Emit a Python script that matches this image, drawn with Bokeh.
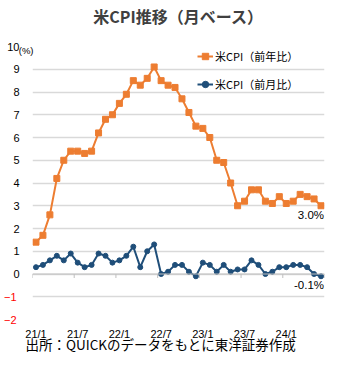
from bokeh.plotting import figure
from bokeh.models import (FixedTicker, LinearAxis, Label, Legend, LegendItem,
                          Range1d, Title, Span)
from bokeh.embed import file_html
from bokeh.resources import INLINE

# ---- data ----
months = [f"{y}/{m}" for y in (21, 22, 23, 24) for m in range(1, 13)][:42]
yoy = [1.4, 1.7, 2.6, 4.2, 5.0, 5.4, 5.4, 5.3, 5.4, 6.2, 6.8, 7.0,
       7.5, 7.9, 8.5, 8.3, 8.6, 9.1, 8.5, 8.3, 8.2, 7.7, 7.1, 6.5,
       6.4, 6.0, 5.0, 4.9, 4.0, 3.0, 3.2, 3.7, 3.7, 3.2, 3.1, 3.4,
       3.1, 3.2, 3.5, 3.4, 3.3, 3.0]
mom = [0.3, 0.4, 0.6, 0.8, 0.6, 0.9, 0.5, 0.3, 0.4, 0.9, 0.8, 0.5,
       0.6, 0.8, 1.2, 0.3, 1.0, 1.3, 0.0, 0.1, 0.4, 0.4, 0.1, -0.1,
       0.5, 0.4, 0.1, 0.4, 0.1, 0.2, 0.2, 0.6, 0.4, 0.0, 0.1, 0.3,
       0.3, 0.4, 0.4, 0.3, 0.0, -0.1]
x_label_idx = [0, 6, 12, 18, 24, 30, 36]
y_ticks_pos = list(range(0, 11))
y_ticks_neg = [-2, -1]
series_names = ["米CPI（前年比）", "米CPI（前月比）"]
title_text = "米CPI推移（月ベース）"
unit_text = "(%)"
source_text = "出所：QUICKのデータをもとに東洋証券作成"

ORANGE = "#ED7D31"
NAVY = "#1F4E79"
GRID = "#D9D9D9"
AXIS = "#BFBFBF"
NUMFONT = "Liberation Sans"
JPFONT = "Noto Sans CJK JP"

x = list(range(len(months)))
x_lo, x_hi = -0.5, len(months) - 0.5
y_lo, y_hi = -2, 10

p = figure(width=340, height=366, output_backend="svg", toolbar_location=None,
           x_range=Range1d(x_lo, x_hi), y_range=Range1d(y_lo, y_hi),
           min_border_left=32, min_border_right=16, min_border_top=46,
           min_border_bottom=47, title=None)
p.outline_line_color = None
p.background_fill_color = "white"
p.border_fill_color = "white"

# title (a thin spacer keeps it clear of the plot area)
p.add_layout(Title(text=" ", text_font_size="1px", standoff=16), "above")
p.add_layout(Title(text=title_text, align="center", offset=-13, standoff=0,
                   text_font=JPFONT, text_font_size="16px",
                   text_font_style="bold", text_color="#404040"), "above")

# grid
p.xgrid.grid_line_color = None
p.ygrid.ticker = FixedTicker(ticks=y_ticks_neg + y_ticks_pos)
p.ygrid.grid_line_color = GRID
p.ygrid.grid_line_width = 1.5

def style_y(ax, color, standoff, size="11px"):
    ax.axis_line_color = None
    ax.major_tick_line_color = None
    ax.minor_tick_line_color = None
    ax.major_tick_out = 0
    ax.major_tick_in = 0
    ax.major_label_standoff = standoff
    ax.major_label_text_font = NUMFONT
    ax.major_label_text_font_size = size
    ax.major_label_text_color = color

# y axis: non-negative labels in black
p.yaxis.ticker = FixedTicker(ticks=y_ticks_pos)
style_y(p.yaxis[0], "black", 13)

# negative labels in red (second left axis, pulled back next to the first)
neg_axis = LinearAxis(ticker=FixedTicker(ticks=y_ticks_neg))
style_y(neg_axis, "red", -12)
p.add_layout(neg_axis, "left")

# unit label "(%)" just below the top tick
unit_y = 9.84
unit_axis = LinearAxis(ticker=FixedTicker(ticks=[unit_y]),
                       major_label_overrides={unit_y: unit_text})
style_y(unit_axis, "black", -33, "9.5px")
p.add_layout(unit_axis, "left")

# x axis (labels at bottom)
p.xaxis.ticker = FixedTicker(ticks=x_label_idx)
p.xaxis.major_label_overrides = {i: months[i] for i in x_label_idx}
p.xaxis.axis_line_color = None
p.xaxis.major_tick_line_color = None
p.xaxis.minor_tick_line_color = None
p.xaxis.major_tick_out = 0
p.xaxis.major_tick_in = 0
p.xaxis.major_label_standoff = 8
p.xaxis.major_label_text_font = NUMFONT
p.xaxis.major_label_text_font_size = "11px"
p.xaxis.major_label_text_color = "black"

# zero line with small boundary ticks
p.add_layout(Span(location=0, dimension="width", line_color=AXIS, line_width=1))
bounds = [i - 0.5 for i in x_label_idx] + [x_hi]
tick_len = (y_hi - y_lo) / 273 * 4
p.segment(x0=bounds, y0=[0] * len(bounds), x1=bounds, y1=[-tick_len] * len(bounds),
          line_color=AXIS, line_width=1)

# source note
p.add_layout(Title(text=source_text, align="left", offset=-7, standoff=-18,
                   vertical_align="top",
                   text_font=JPFONT, text_font_size="13.5px",
                   text_font_style="normal", text_color="black"), "below")

# series
r1 = p.line(x, yoy, line_color=ORANGE, line_width=2)
r1m = p.scatter(x, yoy, marker="square", size=6, fill_color=ORANGE, line_color=ORANGE)
r2 = p.line(x, mom, line_color=NAVY, line_width=2)
r2m = p.scatter(x, mom, marker="circle", size=5, fill_color=NAVY, line_color=NAVY)

legend = Legend(items=[LegendItem(label=series_names[0], renderers=[r1, r1m]),
                       LegendItem(label=series_names[1], renderers=[r2, r2m])],
                location=(165, 227), orientation="vertical",
                padding=0, margin=0, spacing=12, glyph_width=16, glyph_height=16,
                label_height=16, label_standoff=2,
                label_text_font=JPFONT, label_text_font_size="11px",
                label_text_color="black",
                background_fill_alpha=0, border_line_color=None)
p.add_layout(legend, "center")

# end labels
p.add_layout(Label(x=x[-1], y=yoy[-1], text=f"{yoy[-1]:.1f}%", x_offset=3, y_offset=-3,
                   text_align="right", text_baseline="top", text_font=NUMFONT,
                   text_font_size="11.5px", text_color="black"))
p.add_layout(Label(x=x[-1], y=mom[-1], text=f"{mom[-1]:.1f}%", x_offset=3, y_offset=-3,
                   text_align="right", text_baseline="top", text_font=NUMFONT,
                   text_font_size="11.5px", text_color="black"))

open("out.html", "w").write(file_html(p, INLINE))
